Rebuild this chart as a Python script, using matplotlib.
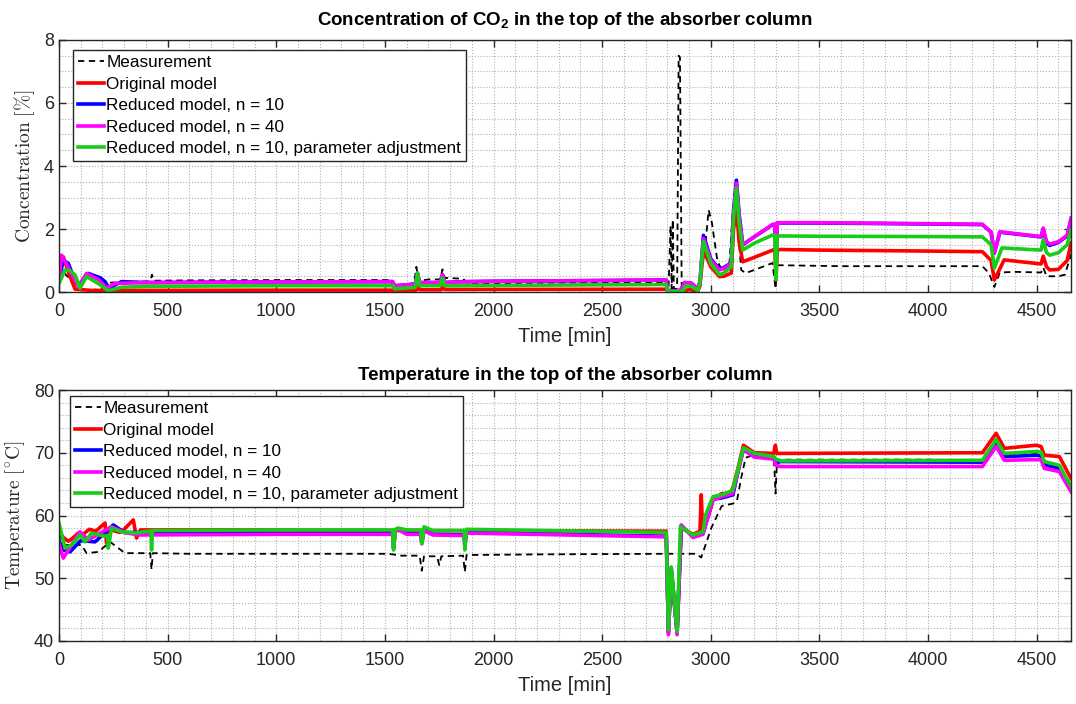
import numpy as np
import matplotlib
matplotlib.use("Agg")
import matplotlib.pyplot as plt
from matplotlib.ticker import MultipleLocator

plt.rcParams['font.family'] = ['Liberation Sans', 'DejaVu Sans']
plt.rcParams['mathtext.fontset'] = 'cm'
plt.rcParams['mathtext.rm'] = 'Liberation Sans'
plt.rcParams['mathtext.bf'] = 'Liberation Sans:bold'

# ---- CO2 concentration at the top of the absorber [%] ----
t_co2_meas = [0, 25, 60, 100, 150, 200, 240, 420, 428, 436, 600, 1000, 1530, 1545, 1635, 1645, 1655,
              1700, 1755, 1765, 1775, 1860, 1880, 2000, 2500, 2795, 2805, 2815, 2820, 2825, 2830,
              2845, 2852, 2858, 2866, 2900, 2950, 2975, 2990, 3005, 3030, 3056, 3085, 3100, 3112,
              3125, 3140, 3160, 3200, 3284, 3298, 3306, 3320, 3600, 4000, 4250, 4280, 4305, 4330,
              4400, 4520, 4530, 4545, 4600, 4630, 4658]
co2_meas = [0.3, 0.6, 0.35, 0.1, 0.05, 0.12, 0.3, 0.34, 0.55, 0.36, 0.37, 0.38, 0.38, 0.08, 0.3, 0.8,
            0.35, 0.4, 0.4, 0.72, 0.45, 0.42, 0.27, 0.28, 0.3, 0.3, 0.05, 2.1, 0.1, 2.3, 0.1,
            0.1, 7.5, 7.45, 0.2, 0.1, 0.3, 1.5, 2.6, 2.2, 1.0, 0.6, 0.8, 2.5, 3.4,
            2.0, 0.7, 0.6, 0.7, 0.92, 0.1, 0.85, 0.85, 0.82, 0.82, 0.82, 0.6, 0.16, 0.62,
            0.64, 0.62, 0.78, 0.5, 0.5, 0.55, 1.2]

t_co2_orig = [0, 12, 20, 45, 74, 150, 1000, 1535, 1645, 1650, 1660, 1760, 1765, 1775, 2795, 2802,
              2870, 2900, 2940, 2950, 2966, 3000, 3040, 3060, 3094, 3105, 3118, 3130, 3147, 3200,
              3285, 3295, 3300, 3306, 3320, 3500, 4000, 4250, 4290, 4305, 4350, 4520, 4530, 4545,
              4560, 4600, 4640, 4658]
co2_orig = [0.6, 1.05, 1.12, 0.6, 0.09, 0.05, 0.06, 0.06, 0.06, 0.3, 0.07, 0.07, 0.25, 0.08, 0.09, 0.01,
            0.01, 0.08, 0.02, 0.2, 1.33, 0.8, 0.49, 0.5, 0.6, 2.0, 2.7, 1.6, 0.96, 1.1,
            1.33, 1.33, 0.38, 1.33, 1.35, 1.33, 1.3, 1.28, 1.0, 0.38, 1.02, 0.89, 1.14, 0.8,
            0.7, 0.72, 1.0, 1.56]

t_co2_n10 = [0, 20, 43, 60, 89, 135, 190, 212, 230, 288, 400, 1000, 1535, 1545, 1640, 1650, 1660,
             1755, 1765, 1775, 1860, 2000, 2795, 2802, 2860, 2880, 2910, 2940, 2950, 2966, 3000,
             3040, 3060, 3094, 3105, 3118, 3130, 3147, 3200, 3285, 3295, 3300, 3306, 3320, 3500,
             4000, 4250, 4290, 4305, 4330, 4520, 4530, 4545, 4560, 4600, 4640, 4658]
co2_n10 = [0.4, 1.0, 0.91, 0.6, 0.2, 0.59, 0.45, 0.33, 0.12, 0.33, 0.3, 0.32, 0.33, 0.2, 0.25, 0.6, 0.3,
           0.3, 0.55, 0.3, 0.33, 0.34, 0.38, 0.02, 0.05, 0.3, 0.28, 0.1, 0.3, 1.8, 1.05,
           0.72, 0.78, 0.92, 2.6, 3.55, 2.5, 1.5, 1.75, 2.14, 2.14, 0.9, 2.19, 2.19, 2.19,
           2.16, 2.14, 1.9, 1.23, 1.9, 1.75, 2.0, 1.55, 1.48, 1.58, 1.78, 2.3]

t_co2_n40 = [0, 12, 30, 58, 89, 127, 181, 219, 258, 400, 1000, 1535, 1545, 1640, 1650, 1660, 1755,
             1765, 1775, 1860, 2000, 2795, 2802, 2860, 2880, 2910, 2940, 2950, 2966, 3000, 3040,
             3060, 3094, 3105, 3118, 3130, 3147, 3200, 3285, 3295, 3300, 3306, 3320, 3500, 4000,
             4250, 4290, 4305, 4330, 4520, 4530, 4545, 4560, 4600, 4640, 4658]
co2_n40 = [0.3, 1.17, 0.95, 0.59, 0.17, 0.59, 0.4, 0.12, 0.27, 0.3, 0.32, 0.33, 0.2, 0.25, 0.6, 0.3, 0.3,
           0.55, 0.3, 0.32, 0.34, 0.38, 0.02, 0.05, 0.3, 0.28, 0.1, 0.3, 1.7, 1.0, 0.7,
           0.75, 0.9, 2.5, 3.45, 2.4, 1.49, 1.75, 2.15, 2.15, 0.9, 2.2, 2.2, 2.2, 2.17,
           2.15, 1.9, 1.24, 1.91, 1.76, 2.03, 1.6, 1.52, 1.6, 1.8, 2.35]

t_co2_adj = [0, 28, 50, 74, 97, 127, 181, 227, 288, 400, 1000, 1535, 1545, 1640, 1650, 1660, 1755,
             1765, 1775, 2795, 2802, 2870, 2885, 2910, 2940, 2950, 2966, 3000, 3040, 3060, 3094,
             3105, 3118, 3130, 3147, 3200, 3285, 3295, 3300, 3306, 3320, 3500, 4000, 4250, 4290,
             4305, 4340, 4520, 4530, 4545, 4560, 4600, 4640, 4658]
co2_adj = [0.27, 0.7, 0.68, 0.54, 0.12, 0.49, 0.27, 0.04, 0.15, 0.18, 0.2, 0.2, 0.1, 0.15, 0.6, 0.2, 0.2,
           0.45, 0.2, 0.24, 0.01, 0.02, 0.2, 0.18, 0.05, 0.3, 1.6, 0.9, 0.55, 0.6, 0.8,
           2.4, 3.3, 2.2, 1.33, 1.55, 1.81, 1.81, 0.4, 1.78, 1.78, 1.77, 1.76, 1.75, 1.5,
           0.76, 1.4, 1.33, 1.65, 1.25, 1.17, 1.25, 1.5, 1.97]

# ---- Temperature at the top of the absorber [degC] ----
t_temp_meas = [0, 28, 104, 127, 181, 235, 304, 410, 420, 426, 432, 600, 1000, 1500, 1540, 1560, 1660,
               1670, 1680, 1740, 1750, 1760, 1860, 1868, 1876, 2200, 2800, 2933, 2956, 3002, 3050,
               3102, 3120, 3140, 3160, 3200, 3290, 3298, 3305, 3320, 3600, 4000, 4250, 4313, 4351,
               4520, 4535, 4604, 4658]
temp_meas = [57.0, 55.3, 55.3, 54.0, 54.2, 55.8, 54.0, 54.0, 54.0, 51.4, 54.0, 53.9, 53.9, 53.9, 53.8,
             53.6, 53.6, 51.2, 53.5, 53.5, 52.1, 53.5, 53.6, 51.0, 53.7, 53.8, 53.9, 53.9, 53.3, 58.0,
             61.5, 61.9, 62.3, 66.0, 69.2, 69.7, 69.5, 63.5, 68.9, 68.9, 68.9, 68.9, 68.8, 71.5,
             69.6, 69.9, 68.4, 67.6, 64.8]

t_temp_orig = [0, 20, 43, 60, 89, 110, 140, 170, 195, 212, 219, 235, 250, 280, 300, 342, 357, 375,
               1000, 1540, 2795, 2805, 2818, 2845, 2864, 2918, 2950, 2956, 2962, 2990, 3010, 3050,
               3090, 3102, 3125, 3150, 3200, 3290, 3297, 3303, 3320, 4250, 4313, 4351, 4497, 4520,
               4535, 4604, 4658]
temp_orig = [57.5, 56.5, 55.9, 56.3, 57.2, 57.0, 57.8, 57.5, 58.3, 58.8, 55.6, 57.8, 57.6, 57.3, 57.8,
             59.3, 56.4, 57.7, 57.7, 57.6, 57.5, 41.5, 51.0, 41.5, 58.0, 57.0, 57.5, 63.3, 58.0, 60.0,
             62.5, 63.5, 63.5, 64.5, 67.5, 71.2, 70.0, 69.9, 71.2, 69.9, 69.9, 70.0, 73.1, 70.7,
             71.2, 71.0, 69.6, 69.4, 65.9]

t_temp_n10 = [0, 20, 51, 100, 166, 250, 300, 1000, 1535, 1540, 1548, 1560, 1600, 1665, 1670, 1680,
              1720, 1865, 1868, 1875, 2795, 2805, 2818, 2845, 2864, 2918, 2964, 3010, 3050, 3102,
              3125, 3150, 3200, 3290, 3300, 3320, 4250, 4313, 4351, 4500, 4520, 4535, 4604, 4658]
temp_n10 = [56.0, 54.5, 54.2, 56.0, 55.8, 58.5, 57.3, 57.2, 57.2, 54.8, 57.6, 57.9, 57.1, 57.1, 55.6, 57.7,
            57.0, 56.9, 55.1, 57.3, 56.7, 41.2, 51.6, 41.2, 58.4, 56.6, 57.1, 62.6, 62.8, 63.3,
            67.0, 70.6, 69.5, 69.2, 68.3, 68.6, 68.5, 71.6, 69.4, 69.6, 69.5, 68.1, 67.5, 64.2]

t_temp_n40 = [0, 20, 58, 97, 135, 180, 242, 300, 365, 1000, 1535, 1540, 1548, 1560, 1600, 1665, 1670,
              1680, 1720, 1865, 1868, 1875, 2795, 2805, 2818, 2845, 2864, 2918, 2964, 3010, 3050,
              3100, 3125, 3150, 3200, 3290, 3300, 3320, 4250, 4313, 4351, 4500, 4520, 4535, 4604,
              4658]
temp_n40 = [55.5, 53.2, 55.3, 57.4, 56.1, 57.0, 58.2, 57.3, 56.9, 57.0, 57.0, 54.8, 57.5, 57.8, 57.0, 57.0,
            55.5, 57.6, 56.9, 56.8, 55.0, 57.2, 56.6, 41.0, 51.5, 41.0, 58.5, 56.5, 57.0, 62.5,
            63.0, 63.5, 67.0, 70.5, 69.3, 69.0, 68.0, 67.8, 67.8, 71.0, 68.8, 68.9, 68.9, 67.5,
            67.0, 63.8]

t_temp_adj = [0, 28, 58, 97, 120, 150, 210, 224, 227, 242, 288, 350, 411, 423, 426, 430, 1000, 1535,
              1540, 1548, 1560, 1600, 1665, 1670, 1680, 1720, 1865, 1868, 1875, 2795, 2805, 2818,
              2845, 2860, 2918, 2964, 2975, 3010, 3050, 3100, 3130, 3150, 3200, 3290, 3300, 3320,
              4250, 4313, 4351, 4500, 4520, 4535, 4604, 4658]
temp_adj = [58.8, 54.8, 55.3, 56.9, 55.8, 57.2, 56.7, 56.8, 54.8, 58.0, 57.4, 57.2, 57.5, 57.5, 54.5,
            57.6, 57.7, 57.7, 54.5, 57.8, 58.0, 57.7, 57.7, 55.5, 58.2, 57.6, 57.6, 54.5, 57.8,
            57.3, 41.8, 51.8, 41.5, 58.2, 56.9, 57.4, 60.0, 63.0, 63.3, 64.0, 68.0, 70.8, 69.9,
            69.4, 69.0, 68.7, 68.8, 72.1, 69.9, 70.2, 70.1, 68.6, 68.0, 64.6]

labels = ['Measurement', 'Original model', 'Reduced model, n = 10',
          'Reduced model, n = 40', 'Reduced model, n = 10, parameter adjustment']
green = '#19cc19'
axcol = '#262626'

fig = plt.figure(figsize=(10.76, 7.04), dpi=100)
ax1 = fig.add_axes([0.0548, 0.5852, 0.9406, 0.358])
ax2 = fig.add_axes([0.0548, 0.0895, 0.9406, 0.3565])


def draw(ax, series, leg_anchor):
    (tm, m), (to, o), (t10, r10), (t40, r40), (ta, a) = series
    ax.plot(tm, m, '--', color='k', lw=1.3, dashes=(3.5, 2.5), label=labels[0])
    ax.plot(to, o, color='#ff0000', lw=2.6, label=labels[1])
    ax.plot(t10, r10, color='#0000ff', lw=2.6, label=labels[2])
    ax.plot(t40, r40, color='#ff00ff', lw=2.6, label=labels[3])
    ax.plot(ta, a, color=green, lw=2.6, label=labels[4])
    ax.set_xlim(0, 4658)
    ax.xaxis.set_major_locator(MultipleLocator(500))
    ax.xaxis.set_minor_locator(MultipleLocator(100))
    ax.grid(which='both', ls=':', color='#b0b0b0', lw=0.8)
    ax.set_axisbelow(True)
    ax.tick_params(which='major', direction='in', top=True, right=True, length=5,
                   labelsize=13, colors=axcol, width=1)
    ax.tick_params(axis='x', pad=8)
    ax.tick_params(which='minor', length=0)
    for s in ax.spines.values():
        s.set_color(axcol)
        s.set_linewidth(1)
    ax.set_xlabel('Time [min]', fontsize=14.5, color=axcol, labelpad=5)
    leg = ax.legend(loc='upper left', bbox_to_anchor=leg_anchor, borderaxespad=0,
                    fontsize=12.3, handlelength=1.5, handletextpad=0.15,
                    borderpad=0.3, labelspacing=0.38, fancybox=False,
                    framealpha=1, edgecolor=axcol)
    leg.get_frame().set_linewidth(1)


draw(ax1, [(t_co2_meas, co2_meas), (t_co2_orig, co2_orig), (t_co2_n10, co2_n10),
           (t_co2_n40, co2_n40), (t_co2_adj, co2_adj)], (0.014, 0.96))
ax1.set_ylim(0, 8)
ax1.yaxis.set_major_locator(MultipleLocator(2))
ax1.yaxis.set_minor_locator(MultipleLocator(0.5))
ax1.set_ylabel(r'$\mathrm{Concentration}\ [\%]$', fontsize=14, color=axcol, labelpad=5,
               math_fontfamily='cm')
ax1.set_title(r'Concentration of CO$_\mathbf{2}$ in the top of the absorber column',
              fontsize=13.5, fontweight='bold', pad=11, math_fontfamily='custom')

draw(ax2, [(t_temp_meas, temp_meas), (t_temp_orig, temp_orig), (t_temp_n10, temp_n10),
           (t_temp_n40, temp_n40), (t_temp_adj, temp_adj)], (0.011, 0.976))
ax2.set_ylim(40, 80)
ax2.yaxis.set_major_locator(MultipleLocator(10))
ax2.yaxis.set_minor_locator(MultipleLocator(2))
ax2.set_ylabel(r'$\mathrm{Temperature}\ [^{\circ}\mathrm{C}]$', fontsize=14, color=axcol, labelpad=5,
               math_fontfamily='cm')
ax2.set_title('Temperature in the top of the absorber column', fontsize=13.5, fontweight='bold', pad=7)

fig.savefig('out.png', dpi=100)
